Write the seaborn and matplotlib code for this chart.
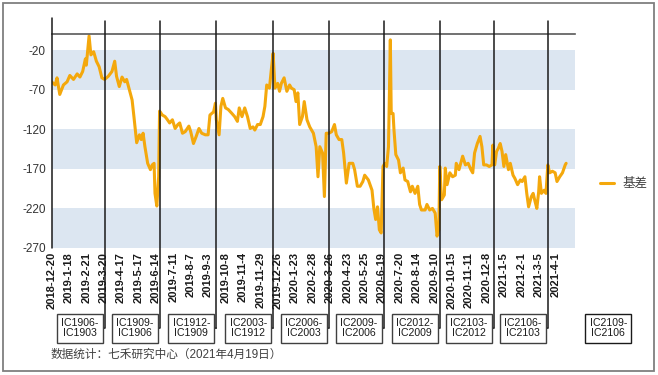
import numpy as np
import pandas as pd
import matplotlib
matplotlib.use('Agg')
import matplotlib.pyplot as plt
from matplotlib.patches import Rectangle
import seaborn as sns

sns.set_style('white')
plt.rcParams['font.family'] = ['Liberation Sans', 'Noto Sans CJK SC']

# trading day number since 2018-12-20, and IC basis
day_idx = [0, 4, 6, 9, 13, 17, 20, 24, 28, 31, 34, 37, 38, 41, 43, 46, 49, 52, 55, 58,
           62, 66, 69, 71, 74, 77, 80, 82, 85, 88, 90, 93, 96, 98, 100, 102, 105, 108, 110, 112,
           113, 115, 117, 118, 121, 124, 126, 129, 132, 135, 138, 140, 143, 146, 150, 152, 155, 158, 161, 164,
           168, 171, 173, 177, 179, 180, 183, 185, 187, 190, 193, 197, 200, 203, 205, 208, 211, 214, 217, 220,
           222, 225, 228, 231, 233, 235, 238, 240, 242, 244, 247, 249, 251, 254, 257, 260, 262, 265, 267, 269,
           271, 274, 276, 279, 282, 286, 289, 291, 293, 296, 298, 300, 303, 306, 309, 311, 314, 317, 319, 322,
           325, 329, 331, 334, 337, 340, 342, 346, 350, 352, 354, 356, 358, 360, 362, 364, 366, 368, 370, 371,
           373, 374, 376, 379, 381, 384, 386, 389, 392, 394, 397, 400, 402, 404, 408, 410, 413, 416, 419, 421,
           423, 424, 426, 429, 430, 432, 435, 438, 441, 442, 445, 449, 452, 455, 458, 460, 462, 465, 468, 470,
           472, 475, 478, 481, 482, 484, 486, 488, 490, 492, 494, 496, 499, 501, 504, 506, 509, 512, 514, 517,
           519, 521, 524, 526, 528, 530, 532, 533, 535, 538, 540, 542, 544, 547, 550, 552, 555, 558, 561, 562]
basis = [-60, -64, -55, -76, -64, -60, -52, -57, -50, -54, -47, -31, -39, -2, -26, -22, -34, -41, -55, -57,
         -53, -47, -34, -53, -66, -54, -60, -57, -70, -83, -104, -137, -127, -133, -125, -142, -163, -171, -165, -163,
         -201, -217, -180, -97, -102, -104, -107, -112, -108, -119, -114, -112, -125, -123, -116, -123, -138, -129, -119, -125,
         -127, -127, -102, -98, -87, -108, -127, -91, -81, -93, -95, -100, -104, -110, -93, -104, -93, -104, -119, -117,
         -121, -114, -114, -104, -91, -64, -68, -45, -24, -68, -62, -72, -62, -55, -72, -64, -68, -70, -85, -74,
         -114, -104, -85, -108, -117, -125, -142, -180, -142, -150, -205, -125, -125, -123, -114, -127, -133, -133, -150, -188,
         -163, -163, -171, -192, -192, -186, -178, -184, -197, -220, -234, -218, -247, -251, -167, -163, -167, -142, -7, -100,
         -100, -121, -152, -159, -175, -169, -184, -186, -199, -192, -201, -192, -215, -222, -222, -215, -222, -220, -226, -255,
         -247, -167, -209, -203, -169, -190, -175, -180, -178, -163, -171, -154, -165, -163, -171, -175, -150, -138, -129, -142,
         -165, -165, -167, -165, -140, -165, -148, -144, -138, -148, -167, -152, -171, -163, -178, -182, -190, -184, -186, -180,
         -201, -218, -205, -201, -211, -220, -199, -180, -201, -197, -201, -165, -175, -173, -175, -186, -180, -175, -165, -163]

tick_labels = ['2018-12-20', '2019-1-18', '2019-2-21', '2019-3-20', '2019-4-17', '2019-5-17',
               '2019-6-14', '2019-7-11', '2019-8-7', '2019-9-3', '2019-10-8', '2019-11-4',
               '2019-11-29', '2019-12-26', '2020-1-23', '2020-2-28', '2020-3-26', '2020-4-23',
               '2020-5-25', '2020-6-19', '2020-7-20', '2020-8-14', '2020-9-10', '2020-10-15',
               '2020-11-11', '2020-12-8', '2021-1-5', '2021-2-1', '2021-3-5', '2021-4-1']
tick_every = 19

# contract roll days (trading day number) and spread names
roll_days = [0, 58, 118, 180, 242, 303, 363, 424, 483, 542]
roll_labels = ['IC1906-\nIC1903', 'IC1909-\nIC1906', 'IC1912-\nIC1909', 'IC2003-\nIC1912',
               'IC2006-\nIC2003', 'IC2009-\nIC2006', 'IC2012-\nIC2009', 'IC2103-\nIC2012',
               'IC2106-\nIC2103']
next_label = 'IC2109-\nIC2106'
next_day = 608

y_ticks = [-20, -70, -120, -170, -220, -270]
bands = [(-70, -20), (-170, -120), (-270, -220)]

df = pd.DataFrame({'day': day_idx, 'basis': basis})

fig = plt.figure(figsize=(6.58, 3.75), dpi=100)
ax = fig.add_axes([0.0783, 0.3387, 0.7960, 0.5698])

for lo, hi in bands:
    ax.axhspan(lo, hi, color='#DCE6F1', lw=0, zorder=0)

sns.lineplot(data=df, x='day', y='basis', color='#F4A80C', lw=2.2, label='基差', ax=ax, zorder=2)

ax.set_xlim(0, 572)
ax.set_ylim(-270, 0)
ax.set_yticks(y_ticks)
ax.set_yticklabels([str(v) for v in y_ticks], fontsize=8.5, color='#333333')
ax.set_xticks(np.arange(len(tick_labels)) * tick_every)
ax.set_xticklabels(tick_labels, rotation=90, fontsize=8, fontweight='bold', color='#1a1a1a')
ax.tick_params(axis='y', length=0, pad=4)
ax.tick_params(axis='x', length=0, pad=3)
ax.set_xlabel('')
ax.set_ylabel('')
for s in ['left', 'right', 'bottom']:
    ax.spines[s].set_visible(False)
ax.spines['top'].set_color('#595959')
ax.spines['top'].set_linewidth(1.2)

# roll lines and spread boxes
blend = ax.get_xaxis_transform()
box_y = -0.375
ax.plot([roll_days[0], roll_days[0]], [1.075, 0], transform=blend, color='#1a1a1a', lw=1.1, clip_on=False, zorder=3)
for d in roll_days[1:]:
    ax.plot([d, d], [1.06, box_y], transform=blend, color='#1a1a1a', lw=1.1, clip_on=False, zorder=3)
for d, lab in zip(roll_days[1:], roll_labels):
    ax.annotate(lab, xy=(d, box_y), xycoords=blend, xytext=(-4.5, 0), textcoords='offset points',
                ha='right', va='center', multialignment='center', fontsize=7.6, color='#1a1a1a',
                linespacing=1.05,
                bbox=dict(boxstyle='square,pad=0.4', fc='white', ec='#404040', lw=1),
                arrowprops=dict(arrowstyle='-', color='#1a1a1a', lw=1, shrinkA=0, shrinkB=0))
ax.text(next_day, box_y, next_label, transform=blend, ha='center', va='center',
        multialignment='center', fontsize=7.6, color='#1a1a1a', linespacing=1.05,
        bbox=dict(boxstyle='square,pad=0.4', fc='white', ec='#1a1a1a', lw=1))

leg = ax.legend(loc='center left', bbox_to_anchor=(0.904, 0.509), bbox_transform=fig.transFigure,
                frameon=False, fontsize=9, handlelength=1.1, handletextpad=0.7, borderaxespad=0)
for t in leg.get_texts():
    t.set_color('#404040')

fig.text(0.076, 0.053, '数据统计：七禾研究中心（2021年4月19日）', fontsize=8.4, color='#404040',
         va='center', ha='left')

fig.patches.append(Rectangle((0.004, 0.011), 0.99, 0.981, transform=fig.transFigure,
                             fill=False, ec='#7f7f7f', lw=1.3))

fig.savefig('out.png', dpi=100)
